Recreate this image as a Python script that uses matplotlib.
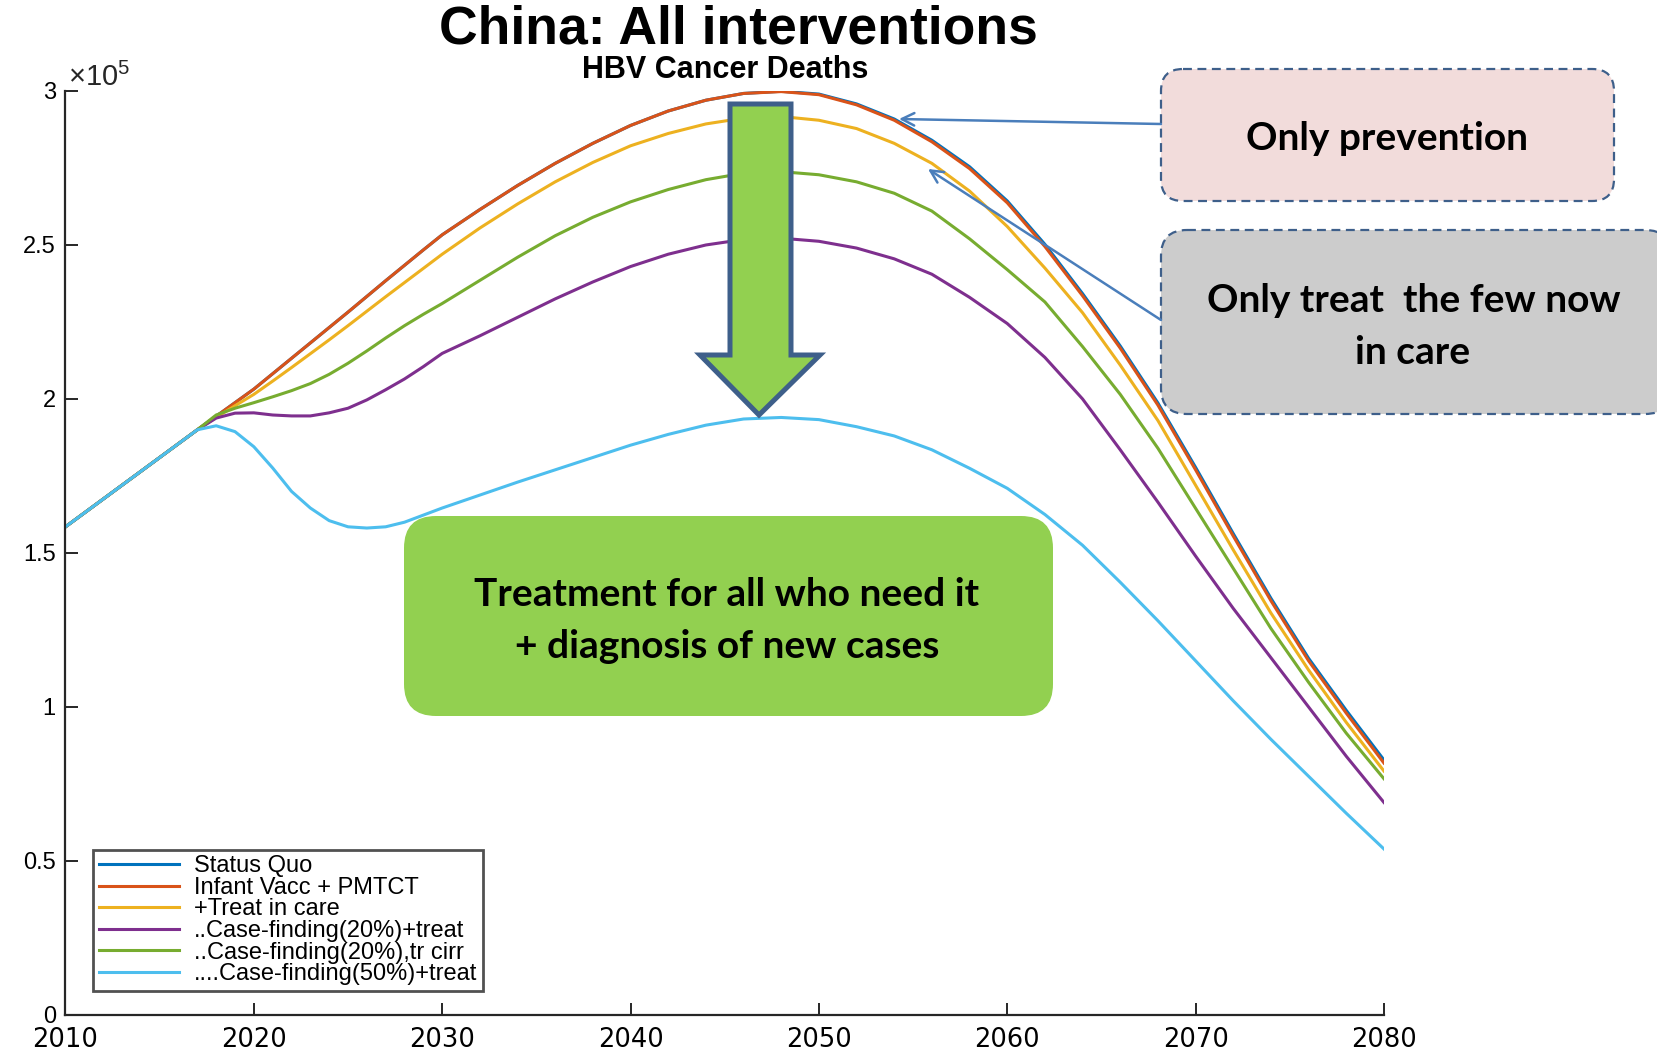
import matplotlib
matplotlib.use('Agg')
import matplotlib.pyplot as plt
from matplotlib.patches import FancyBboxPatch, Polygon
from matplotlib.ticker import FuncFormatter

plt.rcParams['font.family'] = ['Liberation Sans', 'DejaVu Sans']
plt.rcParams['mathtext.fontset'] = 'custom'
plt.rcParams['mathtext.rm'] = 'Liberation Sans'

# years: yearly to 2030, then every 2 years
years = list(range(2010, 2031)) + list(range(2032, 2081, 2))

# deaths, in units of 1e5
status_quo = [1.585, 1.630, 1.675, 1.720, 1.765, 1.810, 1.855, 1.900, 1.944, 1.988, 2.032,
              2.082, 2.132, 2.182, 2.232, 2.282, 2.333, 2.384, 2.434, 2.484, 2.533,
              2.615, 2.693, 2.765, 2.830, 2.888, 2.935, 2.970, 2.992, 2.999, 2.990, 2.958,
              2.909, 2.840, 2.754, 2.643, 2.502, 2.342, 2.172, 1.987, 1.778, 1.563, 1.353,
              1.158, 0.989, 0.828]
infant_vacc = [1.585, 1.630, 1.675, 1.720, 1.765, 1.810, 1.855, 1.900, 1.944, 1.988, 2.032,
               2.082, 2.132, 2.182, 2.232, 2.282, 2.333, 2.384, 2.434, 2.484, 2.533,
               2.615, 2.693, 2.765, 2.830, 2.888, 2.935, 2.970, 2.992, 2.998, 2.988, 2.955,
               2.905, 2.835, 2.748, 2.637, 2.495, 2.335, 2.165, 1.980, 1.770, 1.555, 1.345,
               1.150, 0.980, 0.818]
treat_in_care = [1.585, 1.630, 1.675, 1.720, 1.765, 1.810, 1.855, 1.900, 1.940, 1.978, 2.015,
                 2.058, 2.102, 2.147, 2.192, 2.238, 2.285, 2.332, 2.378, 2.424, 2.470,
                 2.555, 2.633, 2.705, 2.768, 2.822, 2.862, 2.893, 2.912, 2.917, 2.905, 2.878,
                 2.830, 2.765, 2.675, 2.560, 2.425, 2.280, 2.110, 1.930, 1.720, 1.510, 1.305,
                 1.120, 0.950, 0.792]
cf20_treat = [1.585, 1.630, 1.675, 1.720, 1.765, 1.810, 1.855, 1.900, 1.938, 1.954, 1.955,
              1.948, 1.945, 1.945, 1.955, 1.970, 1.997, 2.030, 2.065, 2.105, 2.148,
              2.205, 2.265, 2.325, 2.380, 2.430, 2.470, 2.500, 2.518, 2.522, 2.512, 2.490,
              2.455, 2.405, 2.330, 2.245, 2.135, 2.000, 1.835, 1.665, 1.490, 1.320, 1.160,
              1.000, 0.840, 0.690]
cf20_cirr = [1.585, 1.630, 1.675, 1.720, 1.765, 1.810, 1.855, 1.900, 1.948, 1.970, 1.988,
             2.007, 2.027, 2.050, 2.080, 2.116, 2.156, 2.198, 2.238, 2.275, 2.310,
             2.385, 2.460, 2.530, 2.590, 2.640, 2.680, 2.712, 2.733, 2.738, 2.728, 2.705,
             2.668, 2.610, 2.520, 2.420, 2.315, 2.170, 2.015, 1.840, 1.645, 1.450, 1.255,
             1.080, 0.915, 0.767]
cf50_treat = [1.585, 1.630, 1.675, 1.720, 1.765, 1.810, 1.855, 1.900, 1.913, 1.894, 1.845,
              1.776, 1.700, 1.646, 1.605, 1.585, 1.581, 1.585, 1.600, 1.623, 1.646,
              1.688, 1.730, 1.770, 1.810, 1.850, 1.885, 1.915, 1.935, 1.940, 1.933, 1.910,
              1.880, 1.835, 1.775, 1.710, 1.625, 1.525, 1.405, 1.280, 1.150, 1.020, 0.895,
              0.775, 0.655, 0.539]

labels = ['Status Quo', 'Infant Vacc + PMTCT', '+Treat in care',
          '..Case-finding(20%)+treat', '..Case-finding(20%),tr cirr',
          '....Case-finding(50%)+treat']
series = [status_quo, infant_vacc, treat_in_care, cf20_treat, cf20_cirr, cf50_treat]
colors = ['#0072BD', '#D95319', '#EDB120', '#7E2F8E', '#77AC30', '#4DBEEE']

fig = plt.figure(figsize=(16.58, 10.53), dpi=100)
ax = fig.add_axes([0.0395, 0.0361, 0.7952, 0.8775])

for vals, lab, c in zip(series, labels, colors):
    ax.plot(years, [v * 1e5 for v in vals], color=c, lw=2.2, label=lab)

ax.set_xlim(2010, 2080)
ax.set_ylim(0, 3e5)
ax.set_xticks(range(2010, 2081, 10))
ax.set_yticks([0, 0.5e5, 1e5, 1.5e5, 2e5, 2.5e5, 3e5])
ax.yaxis.set_major_formatter(FuncFormatter(lambda v, p: f'{v / 1e5:g}'))
for s in ['top', 'right']:
    ax.spines[s].set_visible(False)
for s in ['left', 'bottom']:
    ax.spines[s].set_color('#262626')
    ax.spines[s].set_linewidth(1.6)
ax.tick_params(direction='in', length=9, width=1.4, color='#262626')
ax.tick_params(axis='x', labelsize=18.5, pad=9)
ax.tick_params(axis='y', labelsize=17, pad=7)
for t in ax.get_xticklabels():
    t.set_fontfamily('DejaVu Sans')

leg = ax.legend(loc='lower left', bbox_to_anchor=(0.021, 0.026), fontsize=17,
                frameon=True, fancybox=False, handlelength=3.4, labelspacing=-0.02,
                handletextpad=0.6, borderpad=0.25, borderaxespad=0)
leg.get_frame().set_edgecolor('#262626')
leg.get_frame().set_linewidth(2)

fig.text(68 / 1658, 1 - 77 / 1053, r'$\times10^{5}$', fontsize=21, color='#262626',
         va='center')

# titles
fig.text(738 / 1658, 1 - 30 / 1053, 'China: All interventions', ha='center', va='center',
         fontsize=38.5, fontweight='bold')
fig.text(725 / 1658, 1 - 70 / 1053, 'HBV Cancer Deaths', ha='center', va='center',
         fontsize=22, fontweight='bold')

# overlay in pixel coordinates for the callouts
ov = fig.add_axes([0, 0, 1, 1], zorder=5)
ov.set_xlim(0, 1658)
ov.set_ylim(1053, 0)
ov.axis('off')
ov.patch.set_alpha(0)

edge = '#3E5F8A'
green = '#92D050'

ov.add_patch(Polygon([(730, 104), (791, 104), (791, 355), (820, 355), (759, 415),
                      (700, 355), (730, 355)], closed=True, facecolor=green,
                     edgecolor=edge, lw=3.6, joinstyle='miter'))

ov.add_patch(FancyBboxPatch((404, 516), 649, 200, boxstyle='round,pad=0,rounding_size=32',
                            facecolor=green, edgecolor='none'))
ov.text(727, 595, 'Treatment for all who need it', ha='center', va='center',
        fontsize=28, fontweight='bold', family='Lato')
ov.text(727, 646, '+ diagnosis of new cases', ha='center', va='center',
        fontsize=28, fontweight='bold', family='Lato')

ov.add_patch(FancyBboxPatch((1161, 69), 453, 132, boxstyle='round,pad=0,rounding_size=22',
                            facecolor='#F2DCDB', edgecolor=edge, lw=1.6, ls=(0, (4, 2.5))))
ov.text(1387, 138, 'Only prevention', ha='center', va='center',
        fontsize=28, fontweight='bold', family='Lato')

ov.add_patch(FancyBboxPatch((1161, 230), 510, 184, boxstyle='round,pad=0,rounding_size=26',
                            facecolor='#CCCCCC', edgecolor=edge, lw=1.6, ls=(0, (4, 2.5))))
ov.text(1414, 301, 'Only treat  the few now', ha='center', va='center',
        fontsize=28, fontweight='bold', family='Lato')
ov.text(1413, 352, 'in care', ha='center', va='center',
        fontsize=28, fontweight='bold', family='Lato')

arrow_c = '#4A7EBB'
ov.annotate('', xy=(899, 119), xytext=(1161, 124),
            arrowprops=dict(arrowstyle='->,head_length=0.9,head_width=0.45', color=arrow_c,
                            lw=1.8, shrinkA=0, shrinkB=0))
ov.annotate('', xy=(928, 169), xytext=(1161, 320),
            arrowprops=dict(arrowstyle='->,head_length=0.9,head_width=0.45', color=arrow_c,
                            lw=1.8, shrinkA=0, shrinkB=0))

fig.savefig('out.png', dpi=100)
